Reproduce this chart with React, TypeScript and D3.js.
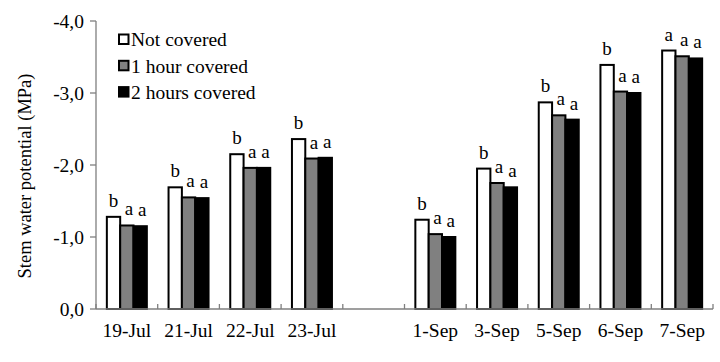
import React from "react";
import * as d3 from "d3";

const categories = ["19-Jul", "21-Jul", "22-Jul", "23-Jul", "", "1-Sep", "3-Sep", "5-Sep", "6-Sep", "7-Sep"];
const seriesNames = ["Not covered", "1 hour covered", "2 hours covered"];
const seriesColors = ["#ffffff", "#808080", "#000000"];
const notCovered = [-1.28, -1.69, -2.15, -2.36, null, -1.24, -1.95, -2.87, -3.39, -3.59];
const oneHour = [-1.16, -1.55, -1.96, -2.09, null, -1.04, -1.75, -2.69, -3.02, -3.51];
const twoHours = [-1.15, -1.54, -1.96, -2.10, null, -1.00, -1.69, -2.63, -3.00, -3.48];
const lettersNot = ["b", "b", "b", "b", "", "b", "b", "b", "b", "a"];
const lettersOne = ["a", "a", "a", "a", "", "a", "a", "a", "a", "a"];
const lettersTwo = ["a", "a", "a", "a", "", "a", "a", "a", "a", "a"];
const yTicks = [0, -1, -2, -3, -4];
const yTitle = "Stem water potential (MPa)";

const W = 720, H = 362;
const FONT = "'Liberation Serif', 'Times New Roman', serif";

export default function App() {
  const left = 96, right = 713, top = 21, bottom = 309;
  const x0 = d3.scaleBand<string>().domain(categories.map((c, i) => String(i))).range([left, right]).padding(0);
  const groupW = 40;
  const x1 = d3.scaleBand<string>().domain(seriesNames).range([0, groupW]).padding(0);
  const y = d3.scaleLinear().domain([0, -4]).range([bottom, top]);
  const data = [notCovered, oneHour, twoHours];
  const letters = [lettersNot, lettersOne, lettersTwo];
  const fmt = (v: number) => (v === 0 ? "0,0" : d3.format(".1f")(v).replace(".", ",").replace("−", "-"));
  const boundaries = categories.map((_, i) => x0(String(i))!).concat([right]);

  return (
    <svg width={W} height={H} style={{ position: "absolute", left: 0, top: 0, background: "#fff" }} fontFamily={FONT}>
      <rect x={0} y={0} width={W} height={H} fill="#fff" />
      {/* bars */}
      {categories.map((c, i) =>
        data.map((s, si) => {
          const v = s[i];
          if (v === null || v === undefined) return null;
          const bx = x0(String(i))! + (x0.bandwidth() - groupW) / 2 + x1(seriesNames[si])!;
          return (
            <rect key={`b${i}-${si}`} x={bx} y={y(v)} width={x1.bandwidth()} height={bottom - y(v)}
              fill={seriesColors[si]} stroke="#000" strokeWidth={2} />
          );
        })
      )}
      {/* letters */}
      {categories.map((c, i) =>
        data.map((s, si) => {
          const v = s[i];
          if (v === null || v === undefined) return null;
          const bx = x0(String(i))! + (x0.bandwidth() - groupW) / 2 + x1(seriesNames[si])! + x1.bandwidth() / 2 + (si > 0 ? 2 : 0);
          return (
            <text key={`l${i}-${si}`} x={bx} y={y(v) - 10} textAnchor="middle" fontSize={19} fill="#000">
              {letters[si][i]}
            </text>
          );
        })
      )}
      {/* axes */}
      <line x1={left} x2={left} y1={top} y2={bottom} stroke="#7f7f7f" strokeWidth={1.3} />
      <line x1={left} x2={right} y1={bottom} y2={bottom} stroke="#7f7f7f" strokeWidth={1.3} />
      {yTicks.map((t) => (
        <g key={`yt${t}`}>
          <line x1={left - 6} x2={left} y1={y(t)} y2={y(t)} stroke="#7f7f7f" strokeWidth={1.3} />
          <text x={84} y={y(t) + 6.5} textAnchor="end" fontSize={19.5} fill="#000">{fmt(t)}</text>
        </g>
      ))}
      {boundaries.map((bx, i) => (
        <line key={`xt${i}`} x1={bx} x2={bx} y1={bottom - 5} y2={bottom} stroke="#7f7f7f" strokeWidth={1.3} />
      ))}
      {categories.map((c, i) => (
        <text key={`xl${i}`} x={x0(String(i))! + x0.bandwidth() / 2} y={337} textAnchor="middle" fontSize={19.5} fill="#000">
          {c}
        </text>
      ))}
      <text transform={`translate(31,176) rotate(-90)`} textAnchor="middle" fontSize={18.5} fill="#000">
        {yTitle}
      </text>
      {/* legend */}
      {seriesNames.map((n, i) => (
        <g key={`lg${i}`}>
          <rect x={119} y={34.5 + i * 26.3} width={9.5} height={9.5} fill={seriesColors[i]} stroke="#000" strokeWidth={2} />
          <text x={131} y={46 + i * 26.5} fontSize={19.5} fill="#000">{n}</text>
        </g>
      ))}
    </svg>
  );
}
